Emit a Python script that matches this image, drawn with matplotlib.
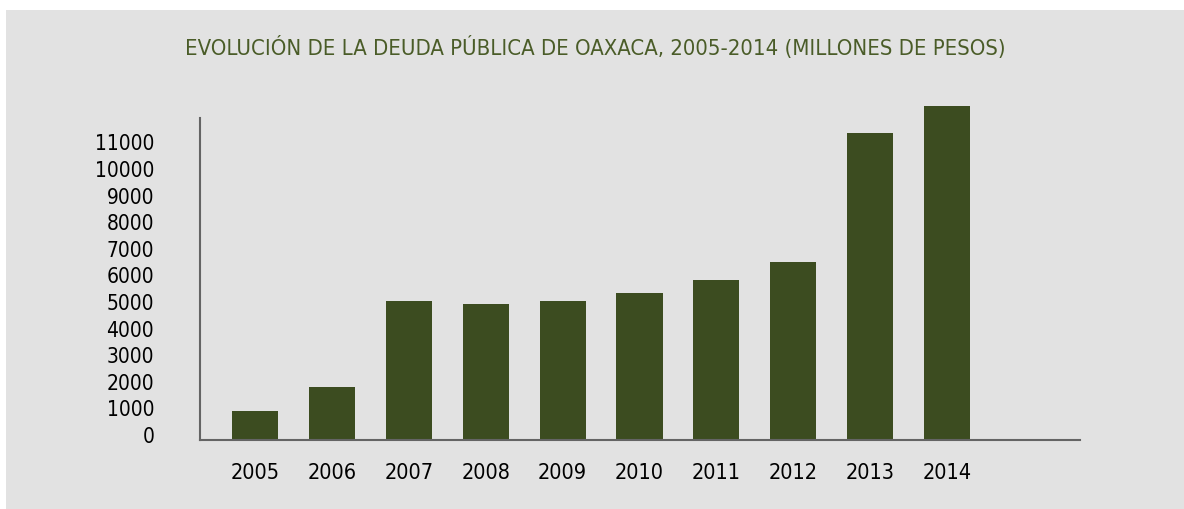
import numpy as np
import matplotlib
matplotlib.use("Agg")
import matplotlib.pyplot as plt
from matplotlib.patches import Rectangle

# Data
years = ['2005', '2006', '2007', '2008', '2009', '2010', '2011', '2012', '2013', '2014']
deuda = [865, 1770, 5000, 4890, 5000, 5300, 5790, 6470, 11320, 12330]
y_ticks = [0, 1000, 2000, 3000, 4000, 5000, 6000, 7000, 8000, 9000, 10000, 11000]
title = 'EVOLUCIÓN DE LA DEUDA PÚBLICA DE OAXACA, 2005-2014 (MILLONES DE PESOS)'

plt.rcParams['font.family'] = ['DejaVu Sans']
plt.rcParams['font.stretch'] = 'condensed'

bg = '#e2e2e2'
bar_color = '#3c4c20'
title_color = '#4a5c28'
axis_color = '#646464'

fig = plt.figure(figsize=(11.84, 5.10), dpi=100, facecolor='white')
# gray panel (white strip top and left as in the original)
fig.patches.append(Rectangle((6 / 1184, 0), 1, 1 - 11 / 510, transform=fig.transFigure,
                             facecolor=bg, edgecolor='none', zorder=-1))

ax = fig.add_axes([200 / 1184, 69 / 510, 880 / 1184, 322 / 510])
ax.set_zorder(2)
ax.set_facecolor('none')

x = np.arange(len(years))
base = -226
heights = np.array(deuda) - base
ax.bar(x, heights, bottom=base, width=0.6, color=bar_color, clip_on=False, zorder=2)

ax.set_xlim(-0.715, 10.728)
ax.set_ylim(base, 11880)
ax.set_xticks(x)
ax.set_xticklabels(years, fontsize=15.5)
ax.set_yticks(y_ticks)
ax.set_yticklabels([str(t) for t in y_ticks], fontsize=15)
ax.tick_params(axis='y', length=0, pad=33)
ax.tick_params(axis='x', length=0, pad=16)

for side in ['top', 'right']:
    ax.spines[side].set_visible(False)
for side in ['left', 'bottom']:
    ax.spines[side].set_color(axis_color)
    ax.spines[side].set_linewidth(1.5)

fig.text(595 / 1184, 1 - 47 / 510, title, ha='center', va='center',
         fontsize=15.8, color=title_color)

fig.savefig('out.png', dpi=100, facecolor=fig.get_facecolor())
